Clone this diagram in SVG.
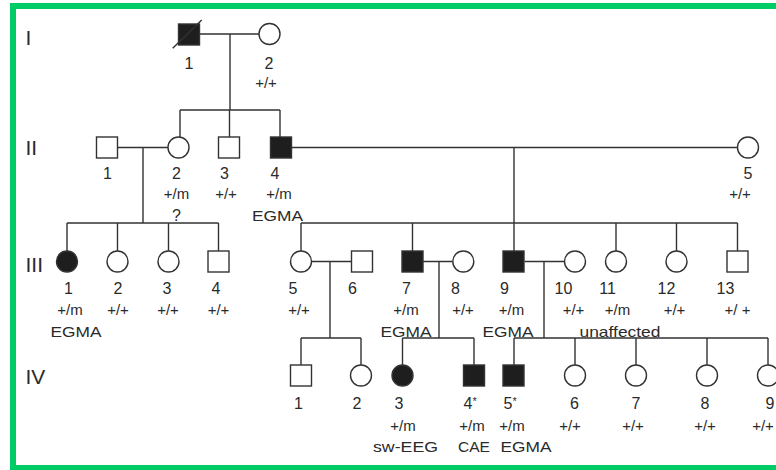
<svg xmlns="http://www.w3.org/2000/svg" width="776" height="470" viewBox="0 0 776 470">
<style>
.b{fill:#ffffff;stroke:#333;stroke-width:1.4}
.f{fill:#1e1e1e;stroke:#333;stroke-width:1.4}
.l{stroke:#333;stroke-width:1.4;fill:none}
text{font-family:"Liberation Sans",Arial,sans-serif;fill:#2a2a2a;text-anchor:middle}
.n{font-size:16px}
.g{font-size:15px}
.d{font-size:15px}
.r{font-size:21px;text-anchor:start}
.s{font-size:11px}
</style>
<rect x="0" y="0" width="776" height="470" fill="#ffffff"/>
<rect x="13" y="6" width="800" height="462" fill="none" stroke="#00cc66" stroke-width="6"/>
<g id="gen-labels">
<text class="r" x="25.5" y="45">I</text>
<text class="r" x="25.5" y="155">II</text>
<text class="r" x="25.5" y="271.5">III</text>
<text class="r" x="25.5" y="383.5">IV</text>
</g>
<g id="connectors">
<path class="l" d="M199.5 34H259M230 34V110M180 110H280M180 110V137M229.5 110V137M280 110V137"/>
<path class="l" d="M117.5 147.5H168M143 147.5V223M67 223H218.5M67 223V251M117.5 223V251M168.5 223V251M218.5 223V251"/>
<path class="l" d="M291.5 147.5H737.5M514 147.5V223M301 223H737.5M301 223V251M412.5 223V251M514 223V251M616 223V251M676.5 223V251M737.5 223V251"/>
<path class="l" d="M311.5 261.5H351.5M330 261.5V338M423 261.5H452.8M439 261.5V338M524.5 261.5H564.5M544 261.5V338"/>
<path class="l" d="M301 338H361M402.5 338H474M514 338H768M301 338V365M361 338V365M402.5 338V365M474 338V365M514 338V365M575 338V365M636 338V365M707 338V365M768 338V365"/>
</g>
<g id="I-1"><rect class="f" x="178.5" y="24" width="21" height="21"/><line class="l" x1="172.7" y1="48.3" x2="201.7" y2="20"/><text class="n" x="189" y="68.5">1</text></g>
<g id="I-2"><circle class="b" cx="269.5" cy="34" r="10.5"/><text class="n" x="269" y="68.5">2</text><text class="g" x="266" y="88">+/+</text></g>
<g id="II-1"><rect class="b" x="96.5" y="137" width="21" height="21"/><text class="n" x="107.5" y="178.5">1</text></g>
<g id="II-2"><circle class="b" cx="178.5" cy="147.5" r="10.5"/><text class="n" x="176.5" y="178.5">2</text><text class="g" x="176.5" y="198.5">+/m</text><text class="n" x="176.5" y="221">?</text></g>
<g id="II-3"><rect class="b" x="218.5" y="137" width="21" height="21"/><text class="n" x="224.5" y="178.5">3</text><text class="g" x="226" y="198.5">+/+</text></g>
<g id="II-4"><rect class="f" x="270.5" y="137" width="21" height="21"/><text class="n" x="275" y="178.5">4</text><text class="g" x="279" y="198.5">+/m</text><text class="d" x="277.5" y="220.5" textLength="51" lengthAdjust="spacingAndGlyphs">EGMA</text></g>
<g id="II-5"><circle class="b" cx="748" cy="147.5" r="10.5"/><text class="n" x="748" y="178.5">5</text><text class="g" x="740" y="198.5">+/+</text></g>
<g id="III-1"><circle class="f" cx="67" cy="261.5" r="10.5"/><text class="n" x="68.5" y="293.5">1</text><text class="g" x="70" y="315">+/m</text><text class="d" x="76" y="336.5" textLength="51" lengthAdjust="spacingAndGlyphs">EGMA</text></g>
<g id="III-2"><circle class="b" cx="117.5" cy="261.5" r="10.5"/><text class="n" x="118" y="293.5">2</text><text class="g" x="118" y="315">+/+</text></g>
<g id="III-3"><circle class="b" cx="168.5" cy="261.5" r="10.5"/><text class="n" x="167" y="293.5">3</text><text class="g" x="168" y="315">+/+</text></g>
<g id="III-4"><rect class="b" x="208" y="251" width="21" height="21"/><text class="n" x="216" y="293.5">4</text><text class="g" x="218.5" y="315">+/+</text></g>
<g id="III-5"><circle class="b" cx="301" cy="261.5" r="10.5"/><text class="n" x="293" y="293.5">5</text><text class="g" x="299" y="315">+/+</text></g>
<g id="III-6"><rect class="b" x="351.5" y="251" width="21" height="21"/><text class="n" x="352.5" y="293.5">6</text></g>
<g id="III-7"><rect class="f" x="402" y="251" width="21" height="21"/><text class="n" x="406.5" y="293.5">7</text><text class="g" x="406" y="315">+/m</text><text class="d" x="406" y="336.5" textLength="51" lengthAdjust="spacingAndGlyphs">EGMA</text></g>
<g id="III-8"><circle class="b" cx="463.3" cy="261.5" r="10.5"/><text class="n" x="455.5" y="293.5">8</text><text class="g" x="463" y="315">+/+</text></g>
<g id="III-9"><rect class="f" x="503" y="251" width="21" height="21"/><text class="n" x="504.5" y="293.5">9</text><text class="g" x="511.5" y="315">+/m</text><text class="d" x="508" y="336.5" textLength="51" lengthAdjust="spacingAndGlyphs">EGMA</text></g>
<g id="III-10"><circle class="b" cx="575" cy="261.5" r="10.5"/><text class="n" x="563.5" y="293.5">10</text><text class="g" x="573.5" y="315">+/+</text></g>
<g id="III-11"><circle class="b" cx="616" cy="261.5" r="10.5"/><text class="n" x="607.5" y="293.5">11</text><text class="g" x="617.5" y="315">+/m</text><text class="d" x="620" y="336.5" textLength="81" lengthAdjust="spacingAndGlyphs">unaffected</text></g>
<g id="III-12"><circle class="b" cx="676.5" cy="261.5" r="10.5"/><text class="n" x="666.5" y="293.5">12</text><text class="g" x="674.5" y="315">+/+</text></g>
<g id="III-13"><rect class="b" x="727" y="251" width="21" height="21"/><text class="n" x="725.5" y="293.5">13</text><text class="g" x="737.5" y="315">+/ +</text></g>
<g id="IV-1"><rect class="b" x="290.5" y="365" width="21" height="21"/><text class="n" x="298.5" y="408.5">1</text></g>
<g id="IV-2"><circle class="b" cx="361" cy="375.5" r="10.5"/><text class="n" x="357" y="408.5">2</text></g>
<g id="IV-3"><circle class="f" cx="402.5" cy="375.5" r="10.5"/><text class="n" x="399" y="408.5">3</text><text class="g" x="403" y="431">+/m</text><text class="d" x="405.5" y="451.5" textLength="65" lengthAdjust="spacingAndGlyphs">sw-EEG</text></g>
<g id="IV-4"><rect class="f" x="463.5" y="365" width="21" height="21"/><text class="n" x="463.5" y="408.5" style="text-anchor:start">4<tspan class="s" dy="-4">*</tspan></text><text class="g" x="472" y="431">+/m</text><text class="d" x="474" y="451.5" textLength="32" lengthAdjust="spacingAndGlyphs">CAE</text></g>
<g id="IV-5"><rect class="f" x="503" y="365" width="21" height="21"/><text class="n" x="503.5" y="408.5" style="text-anchor:start">5<tspan class="s" dy="-4">*</tspan></text><text class="g" x="512" y="431">+/m</text><text class="d" x="526" y="451.5" textLength="51" lengthAdjust="spacingAndGlyphs">EGMA</text></g>
<g id="IV-6"><circle class="b" cx="575" cy="375.5" r="10.5"/><text class="n" x="574.5" y="408.5">6</text><text class="g" x="570" y="431">+/+</text></g>
<g id="IV-7"><circle class="b" cx="636" cy="375.5" r="10.5"/><text class="n" x="636" y="408.5">7</text><text class="g" x="633" y="431">+/+</text></g>
<g id="IV-8"><circle class="b" cx="707" cy="375.5" r="10.5"/><text class="n" x="705" y="408.5">8</text><text class="g" x="705" y="431">+/+</text></g>
<g id="IV-9"><circle class="b" cx="768" cy="375.5" r="10.5"/><text class="n" x="770" y="408.5">9</text><text class="g" x="763" y="431">+/+</text></g>
</svg>
